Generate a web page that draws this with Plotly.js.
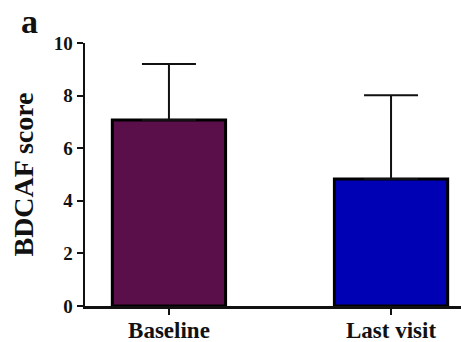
<!DOCTYPE html>
<html>
<head>
<meta charset="utf-8">
<script src="https://cdn.plot.ly/plotly-3.0.1.min.js"></script>
<style>html,body{margin:0;padding:0;background:#fff;}#chart{width:461px;height:342px;}</style>
</head>
<body>
<div id="chart"></div>
<script>
const categories = ["Baseline", "Last visit"];
const means = [7.07, 4.83];
const sdUpper = [2.13, 3.18];
const barColors = ["#5A0F4B", "#0000B4"];
const yTicks = [0, 2, 4, 6, 8, 10];

const trace = {
  type: "bar",
  x: categories,
  y: means,
  width: 0.51,
  marker: { color: barColors, line: { color: "#000", width: 3 } },
  error_y: { type: "data", symmetric: false, array: sdUpper, arrayminus: [0, 0], color: "#111", thickness: 2, width: 27 },
  hoverinfo: "none"
};

const font = "Liberation Serif, Times New Roman, serif";
const layout = {
  width: 461, height: 342,
  margin: { l: 85, r: 0, t: 43, b: 36 },
  paper_bgcolor: "#fff", plot_bgcolor: "#fff",
  showlegend: false,
  font: { family: font, color: "#111" },
  xaxis: {
    range: [-0.378, 1.315],
    showline: true, linecolor: "#111", linewidth: 2.5,
    ticks: "outside", ticklen: 6, tickwidth: 2, tickcolor: "#111",
    ticklabelstandoff: -4,
    tickfont: { family: font, size: 23, weight: "bold", color: "#111" },
    showgrid: false, zeroline: false, fixedrange: true
  },
  yaxis: {
    range: [0, 10],
    tickvals: yTicks,
    showline: true, linecolor: "#111", linewidth: 2.5,
    ticks: "outside", ticklen: 6, tickwidth: 2, tickcolor: "#111",
    tickfont: { family: font, size: 19, weight: "bold", color: "#111" },
    showgrid: false, zeroline: false, fixedrange: true,
    title: { text: "BDCAF score", font: { family: font, size: 28, weight: "bold", color: "#111" }, standoff: 12 }
  },
  annotations: [{
    text: "a", xref: "paper", yref: "paper", x: -0.175, y: 1.003,
    xanchor: "left", yanchor: "bottom", showarrow: false,
    font: { family: font, size: 34, weight: "bold", color: "#111" }
  }]
};

Plotly.newPlot("chart", [trace], layout, { staticPlot: true, displayModeBar: false });
</script>
</body>
</html>
